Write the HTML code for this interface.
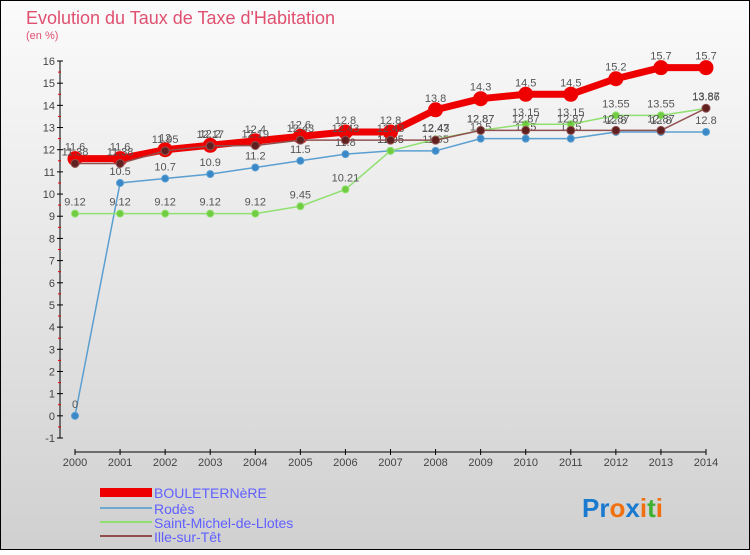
<!DOCTYPE html>
<html><head><meta charset="utf-8"><style>
body{margin:0;width:750px;height:550px;overflow:hidden;font-family:"Liberation Sans",sans-serif}
svg text{font-family:"Liberation Sans",sans-serif}
</style></head><body>
<svg id="c" width="750" height="550">
<defs><linearGradient id="bg" x1="0" y1="0" x2="0" y2="1"><stop offset="0" stop-color="#fbfbfb"/><stop offset="1" stop-color="#d0d0d0"/></linearGradient></defs>
<rect x="0.5" y="0.5" width="749" height="549" fill="url(#bg)" stroke="#000"/>
<text x="26" y="24" font-size="18" fill="#e05070">Evolution du Taux de Taxe d'Habitation</text>
<text x="26" y="39" font-size="11" fill="#e05070">(en %)</text>
<g id="axes"></g><g id="series"></g>
<g>
<rect x="100" y="488" width="52" height="9" fill="#e00"/>
<text x="154" y="498" font-size="14" fill="#6060ff">BOULETERNèRE</text>
<rect x="100" y="507" width="52" height="2" fill="#6fa8d0"/>
<text x="154" y="514" font-size="14" fill="#6060ff">Rodès</text>
<rect x="100" y="521" width="52" height="2" fill="#90e070"/>
<text x="154" y="528" font-size="14" fill="#6060ff">Saint-Michel-de-Llotes</text>
<rect x="100" y="535" width="52" height="2" fill="#905050"/>
<text x="154" y="542" font-size="14" fill="#6060ff">Ille-sur-Têt</text>
</g>
<text x="582" y="517" font-size="26" font-weight="bold"><tspan fill="#1a7ad0">Pr</tspan><tspan fill="#f07010">o</tspan><tspan fill="#1a7ad0">x</tspan><tspan fill="#f07010">i</tspan><tspan fill="#40b030">t</tspan><tspan fill="#f07010">i</tspan></text>
</svg>
<script>
const years=[2000,2001,2002,2003,2004,2005,2006,2007,2008,2009,2010,2011,2012,2013,2014];
const bouleternere=[11.6,11.6,12,12.2,12.4,12.6,12.8,12.8,13.8,14.3,14.5,14.5,15.2,15.7,15.7];
const rodes=[0,10.5,10.7,10.9,11.2,11.5,11.8,11.95,11.95,12.5,12.5,12.5,12.8,12.8,12.8];
const saintMichel=[9.12,9.12,9.12,9.12,9.12,9.45,10.21,11.95,12.47,12.87,13.15,13.15,13.55,13.55,13.86];
const ille=[11.38,11.38,11.95,12.17,12.19,12.43,12.43,12.43,12.43,12.87,12.87,12.87,12.87,12.87,13.87];
const yTicks=[-1,0,1,2,3,4,5,6,7,8,9,10,11,12,13,14,15,16];
const NS='http://www.w3.org/2000/svg';
const X=i=>75+i*(706-75)/(years.length-1);
const Y=v=>438-(v+1)*(438-61)/17;
function mk(t,a,p){const e=document.createElementNS(NS,t);for(const k in a)e.setAttribute(k,a[k]);p.appendChild(e);return e;}
const ax=document.getElementById('axes');
mk('line',{x1:60,y1:61,x2:60,y2:438,stroke:'#000'},ax);
mk('line',{x1:75,y1:452,x2:706,y2:452,stroke:'#000'},ax);
yTicks.forEach(v=>{mk('line',{x1:57,y1:Y(v),x2:63,y2:Y(v),stroke:'#000'},ax);
 if(v<16)mk('line',{x1:58,y1:Y(v+0.5),x2:61,y2:Y(v+0.5),stroke:'#e00'},ax);
 const t=mk('text',{x:55,y:Y(v)+4,'font-size':11,fill:'#444','text-anchor':'end'},ax);t.textContent=v;
 
 });
years.forEach((y,i)=>{mk('line',{x1:X(i),y1:449,x2:X(i),y2:455,stroke:'#000'},ax);
 const t=mk('text',{x:X(i),y:466,'font-size':11,fill:'#444','text-anchor':'middle'},ax);t.textContent=y;
 
 });
const sg=document.getElementById('series');
function draw(d,name,col,w,r,mc){
 const g=mk('g',{},sg);
 
 
 mk('polyline',{points:d.map((v,i)=>X(i)+','+Y(v)).join(' '),fill:'none',stroke:col,'stroke-width':w,'stroke-linejoin':'round'},g);
 d.forEach((v,i)=>{const c=mk('circle',{cx:X(i),cy:Y(v),r:r,fill:mc,stroke:col,'stroke-width':1},g);
  
  
  const t=mk('text',{x:X(i),y:Y(v)-8,'font-size':11,fill:'#555','text-anchor':'middle'},g);t.textContent=v;
  
  });
}
draw(rodes,'rodes','#5a9fd0',1.5,3.5,'#3a88c8');
draw(saintMichel,'saint-michel','#90e070',1.5,3.5,'#70cc40');
draw(bouleternere,'bouleternere','#e00',7,7,'#e00');
draw(ille,'ille','#905050',1.5,4,'#602020');
</script>
</body></html>
